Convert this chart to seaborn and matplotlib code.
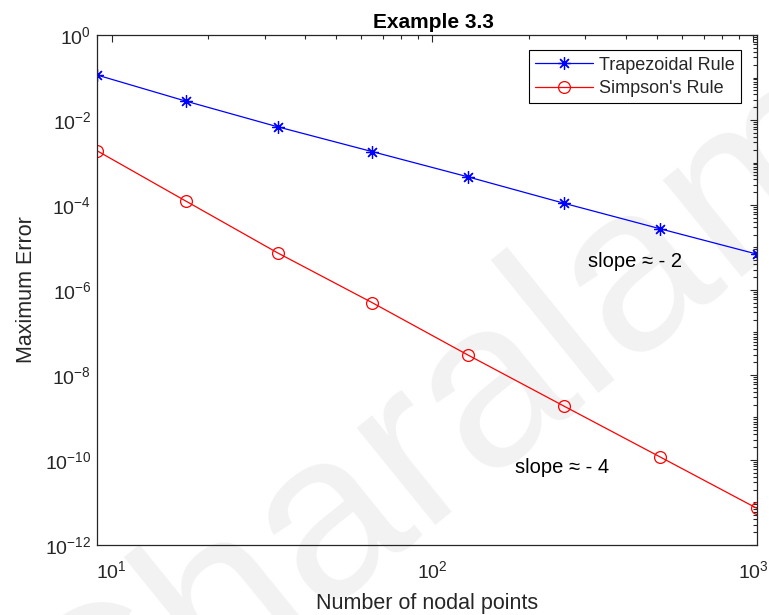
import numpy as np
import pandas as pd
import matplotlib
matplotlib.use("Agg")
import matplotlib.pyplot as plt
import matplotlib.ticker as mticker
import seaborn as sns

# Number of nodal points used in each composite rule
nodes = [9, 17, 33, 65, 129, 257, 513, 1025]
# Maximum error of each rule
trap_err = [1.15e-1, 2.8e-2, 6.9e-3, 1.8e-3, 4.6e-4, 1.1e-4, 2.75e-5, 7.0e-6]
simp_err = [1.9e-3, 1.25e-4, 7.4e-6, 5.0e-7, 2.95e-8, 1.85e-9, 1.17e-10, 7.3e-12]
series_names = ["Trapezoidal Rule", "Simpson's Rule"]
y_major = [1e-12, 1e-10, 1e-8, 1e-6, 1e-4, 1e-2, 1e0]
x_major = [1e1, 1e2, 1e3]

sns.set_theme(style="white")
plt.rcParams["font.family"] = ["Liberation Sans", "DejaVu Sans"]
plt.rcParams["mathtext.fontset"] = "custom"
plt.rcParams["mathtext.rm"] = "Liberation Sans"
plt.rcParams["mathtext.it"] = "Liberation Sans"
plt.rcParams["mathtext.default"] = "regular"

df = pd.DataFrame({
    "n": nodes * 2,
    "err": trap_err + simp_err,
    "rule": [series_names[0]] * len(nodes) + [series_names[1]] * len(nodes),
})

fig = plt.figure(figsize=(7.69, 6.15), dpi=100)
ax = fig.add_axes([0.126, 0.114, 0.858, 0.829])
ax.set_zorder(2)
ax.set_facecolor("none")

# faint diagonal author mark behind the data
fig.text(0.11, -0.30, "Charalampos", fontsize=170, color="#f2f2f2",
         rotation=39, rotation_mode="anchor", ha="left", va="baseline",
         zorder=0)

ink = "#262626"
sns.lineplot(data=df[df.rule == series_names[0]], x="n", y="err", ax=ax,
             color="blue", lw=0.9, marker=(8, 2, 0), markersize=9,
             markeredgewidth=0.9, markeredgecolor="blue",
             label=series_names[0])
sns.lineplot(data=df[df.rule == series_names[1]], x="n", y="err", ax=ax,
             color="red", lw=0.9, marker="o", markersize=8.5,
             markerfacecolor="none", markeredgewidth=0.9,
             markeredgecolor="red", label=series_names[1])

ax.set_xscale("log")
ax.set_yscale("log")
ax.set_xlim(nodes[0], nodes[-1])
ax.set_ylim(1e-12, 1)
ax.set_yticks(y_major)
ax.set_xticks(x_major)
ax.xaxis.set_major_formatter(mticker.LogFormatterSciNotation())
ax.yaxis.set_major_formatter(mticker.LogFormatterSciNotation())
ax.xaxis.set_minor_locator(mticker.LogLocator(base=10, subs=np.arange(2, 10), numticks=100))
ax.yaxis.set_minor_locator(mticker.LogLocator(base=10, subs=np.arange(1, 10), numticks=100))
ax.yaxis.set_minor_formatter(mticker.NullFormatter())
ax.xaxis.set_minor_formatter(mticker.NullFormatter())

ax.tick_params(which="both", direction="in", top=True, right=True,
               colors=ink, labelsize=14, width=0.8)
ax.tick_params(which="major", length=5)
ax.tick_params(which="minor", length=2.8)
ax.tick_params(axis="x", which="major", pad=11)
ax.tick_params(axis="y", which="major", pad=4)
for s in ax.spines.values():
    s.set_color(ink)
    s.set_linewidth(0.9)

ax.set_xlabel("Number of nodal points", fontsize=15.5, color=ink, labelpad=8)
ax.set_ylabel("Maximum Error", fontsize=15.5, color=ink, labelpad=6)
ax.set_title("Example 3.3", fontsize=15, fontweight="bold", color="black",
             pad=5, x=0.51)

ax.text(427, 4.6e-6, "slope \u2248 - 2", fontsize=14.5, color="black", va="center", ha="center")
ax.text(254, 6.5e-11, "slope \u2248 - 4", fontsize=14.5, color="black", va="center", ha="center")

leg = ax.legend(loc="upper right", fontsize=13, frameon=True, fancybox=False,
                edgecolor="black", borderpad=0.35, handlelength=3.2,
                labelspacing=0.35, borderaxespad=0.85, handletextpad=0.35,
                framealpha=1)
leg.get_frame().set_linewidth(0.8)

fig.savefig("out.png", dpi=100)
